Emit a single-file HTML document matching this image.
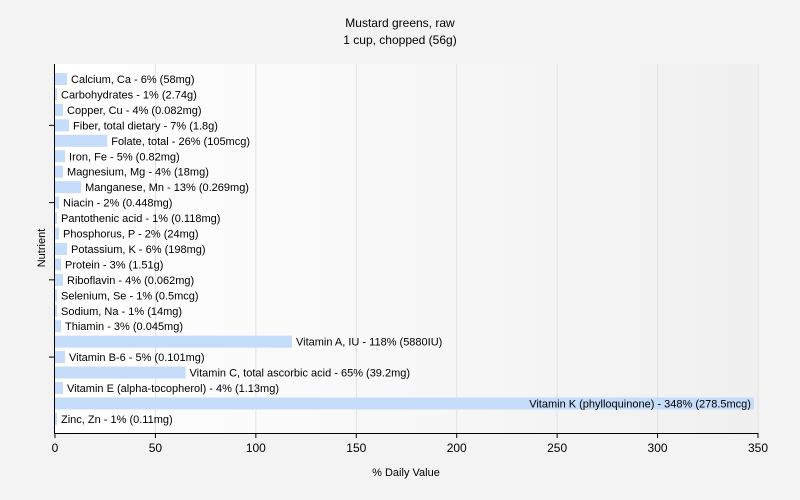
<!DOCTYPE html>
<html><head><meta charset="utf-8"><style>
html,body{margin:0;padding:0;width:800px;height:500px;overflow:hidden;background:#f3f3f3;font-family:"Liberation Sans",sans-serif;}
svg{display:block;}
svg text{font-family:"Liberation Sans",sans-serif;}
</style></head><body>
<svg id="c" width="800" height="500" xmlns="http://www.w3.org/2000/svg">
<defs><linearGradient id="bg" x1="0" y1="0" x2="1" y2="0"><stop offset="0" stop-color="#ffffff"/><stop offset="1" stop-color="#f0f0f0"/></linearGradient></defs>
<rect width="800" height="500" fill="#f3f3f3"/>
<text x="400" y="27" text-anchor="middle" font-size="12">Mustard greens, raw</text>
<text x="400" y="44" text-anchor="middle" font-size="12">1 cup, chopped (56g)</text>
<rect x="55" y="64" width="703" height="369" fill="url(#bg)"/>
<g id="grid"></g><g id="bars"></g><g id="axes"></g>
<text x="406" y="476" text-anchor="middle" font-size="11">% Daily Value</text>
<text transform="translate(45,248) rotate(-90)" text-anchor="middle" font-size="11">Nutrient</text>
</svg>
<script>
const names=["Calcium, Ca","Carbohydrates","Copper, Cu","Fiber, total dietary","Folate, total","Iron, Fe","Magnesium, Mg","Manganese, Mn","Niacin","Pantothenic acid","Phosphorus, P","Potassium, K","Protein","Riboflavin","Selenium, Se","Sodium, Na","Thiamin","Vitamin A, IU","Vitamin B-6","Vitamin C, total ascorbic acid","Vitamin E (alpha-tocopherol)","Vitamin K (phylloquinone)","Zinc, Zn"];
const values=[6,1,4,7,26,5,4,13,2,1,2,6,3,4,1,1,3,118,5,65,4,348,1];
const amounts=["58mg","2.74g","0.082mg","1.8g","105mcg","0.82mg","18mg","0.269mg","0.448mg","0.118mg","24mg","198mg","1.51g","0.062mg","0.5mcg","14mg","0.045mg","5880IU","0.101mg","39.2mg","1.13mg","278.5mcg","0.11mg"];
const xTicks=[0,50,100,150,200,250,300,350];
const NS="http://www.w3.org/2000/svg";
const x0=55,x1=758,xMax=350;
const xs=v=>x0+v/xMax*(x1-x0);
const ys=i=>79+i*15.45;
function mk(t,a,p){const e=document.createElementNS(NS,t);for(const k in a)e.setAttribute(k,a[k]);p.appendChild(e);return e;}
const G=document.getElementById('grid'),B=document.getElementById('bars'),A=document.getElementById('axes');
xTicks.forEach(t=>{
 if(t>0){const l=mk('line',{x1:xs(t),x2:xs(t),y1:64,y2:433,stroke:'#e2e2e2'},G);
 
 }
 const k=mk('line',{x1:xs(t),x2:xs(t),y1:433,y2:438,stroke:'#000'},A);
 
 
 const tx=mk('text',{x:xs(t),y:452,'text-anchor':'middle','font-size':12},A);tx.textContent=t;
 
 
});
names.forEach((n,i)=>{
 const y=ys(i),w=xs(values[i])-x0;
 const r=mk('rect',{x:x0,y:y-6,width:w,height:12,fill:'#c5dcfa'},B);
 
 
 const label=n+" - "+values[i]+"% ("+amounts[i]+")";
 const inside=values[i]>300;
 const t=mk('text',{x:inside?xs(values[i])-3:xs(values[i])+4,y:y+4,'font-size':11,'text-anchor':inside?'end':'start'},B);
 t.textContent=label;
 
 
 if(i%5===3){const k=mk('line',{x1:49,x2:55,y1:y,y2:y,stroke:'#000'},A);
 
 }
});
const ya=mk('line',{x1:54.5,x2:54.5,y1:64,y2:433,stroke:'#000'},A);


const xa=mk('line',{x1:54,x2:758,y1:433.5,y2:433.5,stroke:'#000'},A);


</script>
</body></html>
